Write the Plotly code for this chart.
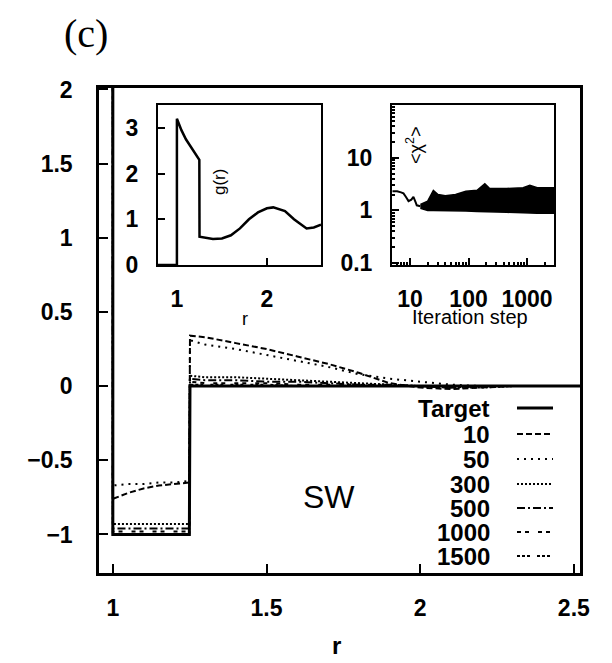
import plotly.graph_objects as go
import math

# ---------------- main panel data: u(r) ----------------
r_main = [1.0, 1.0, 1.05, 1.10, 1.15, 1.20, 1.249, 1.251, 1.30, 1.40, 1.50, 1.60,
          1.70, 1.80, 1.90, 2.00, 2.10, 2.20, 2.30, 2.40, 2.52]
u_target = [3.0, -1.0, -1.0, -1.0, -1.0, -1.0, -1.0, 0.0, 0.0, 0.0, 0.0, 0.0,
            0.0, 0.0, 0.0, 0.0, 0.0, 0.0, 0.0, 0.0, 0.0]
u_10 = [3.0, -0.76, -0.72, -0.69, -0.67, -0.66, -0.65, 0.34, 0.33, 0.29, 0.25, 0.20,
        0.15, 0.09, 0.02, -0.01, -0.02, -0.01, 0.0, 0.0, 0.0]
u_50 = [3.0, -0.67, -0.66, -0.66, -0.65, -0.65, -0.64, 0.31, 0.28, 0.25, 0.21, 0.17,
        0.13, 0.08, 0.05, 0.03, 0.01, 0.0, 0.0, 0.0, 0.0]
u_300 = [3.0, -0.93, -0.93, -0.93, -0.93, -0.93, -0.93, 0.07, 0.06, 0.06, 0.05, 0.04,
         0.03, 0.02, 0.01, 0.0, -0.01, -0.01, 0.0, 0.0, 0.0]
u_500 = [3.0, -0.96, -0.96, -0.96, -0.96, -0.96, -0.96, 0.05, 0.04, 0.04, 0.03, 0.03,
         0.02, 0.01, 0.01, 0.0, -0.01, 0.0, 0.0, 0.0, 0.0]
u_1000 = [3.0, -0.98, -0.98, -0.98, -0.98, -0.98, -0.98, 0.03, 0.02, 0.02, 0.02, 0.01,
          0.01, 0.01, 0.0, 0.0, -0.01, 0.0, 0.0, 0.0, 0.0]
u_1500 = [3.0, -1.0, -1.0, -1.0, -1.0, -1.0, -1.0, 0.01, 0.01, 0.01, 0.01, 0.0,
          0.0, 0.0, 0.0, 0.0, 0.0, 0.0, 0.0, 0.0, 0.0]

series_names = ["Target", "10", "50", "300", "500", "1000", "1500"]
series_vals = [u_target, u_10, u_50, u_300, u_500, u_1000, u_1500]

x_ticks = [1, 1.5, 2, 2.5]
x_ticklabels = ["1", "1.5", "2", "2.5"]
y_ticks = [-1, -0.5, 0, 0.5, 1, 1.5, 2]
y_ticklabels = ["\u22121", "\u22120.5", "0", "0.5", "1", "1.5", "2"]

# ---------------- inset 1: g(r) ----------------
r_g = [0.79, 1.0, 1.0, 1.05, 1.10, 1.15, 1.20, 1.249, 1.251, 1.30, 1.40, 1.50, 1.60,
       1.70, 1.80, 1.90, 2.00, 2.07, 2.20, 2.30, 2.44, 2.52, 2.60]
g_vals = [0.0, 0.0, 3.2, 2.95, 2.75, 2.6, 2.45, 2.3, 0.62, 0.60, 0.57, 0.58, 0.65,
          0.80, 1.00, 1.15, 1.24, 1.26, 1.18, 1.00, 0.80, 0.82, 0.88]

# ---------------- inset 2: <chi^2> vs iteration ----------------
it_early = [5, 6, 7, 7.7, 8.5, 9.4, 10.5, 11.4, 12.5, 13, 15]
chi_early = [2.3, 2.3, 2.2, 2.1, 1.8, 1.5, 1.6, 1.8, 1.4, 1.25, 1.2]
it_band = [15, 20, 25, 30, 40, 60, 90, 140, 190, 230, 450, 860, 1120, 1500, 2000, 2900]
chi_upper = [1.3, 1.5, 2.4, 2.0, 1.9, 2.0, 2.3, 2.4, 3.2, 2.6, 2.6, 2.7, 3.0, 2.7, 2.7, 2.7]
chi_lower = [1.1, 1.0, 1.0, 1.0, 0.98, 1.0, 0.97, 0.95, 0.95, 0.93, 0.92, 0.9, 0.88, 0.88, 0.88, 0.88]

# ---------------- styles ----------------
dashes = ["solid", "6px,3px", "2px,5px", "2px,2px", "8px,3px,2px,3px",
          "4px,4px,4px,9px", "3px,2px,3px,2px,3px,7px"]
widths = [3, 2, 2, 2, 2, 2, 2]

FONT = "Liberation Sans, Arial, sans-serif"
TICKFONT = dict(family=FONT, size=23, color="black", weight="bold")

fig = go.Figure()

for name, vals, dsh, w in zip(series_names, series_vals, dashes, widths):
    fig.add_trace(go.Scatter(x=r_main, y=vals, mode="lines", name=name,
                             line=dict(color="black", width=w, dash=dsh),
                             xaxis="x", yaxis="y", showlegend=False))

fig.add_trace(go.Scatter(x=r_g, y=g_vals, mode="lines", line=dict(color="black", width=2.5),
                         xaxis="x2", yaxis="y2", showlegend=False))

fig.add_trace(go.Scatter(x=it_early, y=chi_early, mode="lines", line=dict(color="black", width=2),
                         xaxis="x3", yaxis="y3", showlegend=False))
fig.add_trace(go.Scatter(x=it_band, y=chi_lower, mode="lines", line=dict(color="black", width=1.5),
                         xaxis="x3", yaxis="y3", showlegend=False))
fig.add_trace(go.Scatter(x=it_band, y=chi_upper, mode="lines", line=dict(color="black", width=1.5),
                         fill="tonexty", fillcolor="black",
                         xaxis="x3", yaxis="y3", showlegend=False))

axis_common = dict(showline=True, linecolor="black", mirror=True, ticks="inside",
                   tickcolor="black", showgrid=False, zeroline=False, automargin=False,
                   tickfont=TICKFONT)

# The page body has an 8px margin: the figure is drawn 8px right/down of the window corner.
OFF = 8
W, H = 612 - OFF, 663 - OFF
L, R, T, B = 99 - OFF, 612 - 580, 88 - OFF, 663 - 573
pw, ph = W - L - R, H - T - B


def px(x):
    # window pixel x -> paper coordinate
    return (x - OFF - L) / pw


def py(y):
    # window pixel y -> paper coordinate
    return (H - B - (y - OFF)) / ph


fig.update_layout(
    width=W, height=H,
    margin=dict(l=L, r=R, t=T, b=B, autoexpand=False),
    paper_bgcolor="white", plot_bgcolor="white",
    xaxis=dict(domain=[0, 1], range=[0.955, 2.52], tickvals=x_ticks, ticktext=x_ticklabels,
               ticklen=9, tickwidth=2, linewidth=2.5, ticklabelstandoff=13,
               anchor="y", **axis_common),
    yaxis=dict(domain=[0, 1], range=[-1.26, 2.01], tickvals=y_ticks, ticktext=y_ticklabels,
               ticklen=9, tickwidth=2, linewidth=2.5, ticklabelstandoff=19,
               anchor="x", **axis_common),
    xaxis2=dict(domain=[px(158), px(321)], range=[0.79, 2.6], tickvals=[1, 2],
                ticklen=7, tickwidth=2, linewidth=2, ticklabelstandoff=12, anchor="y2",
                **axis_common),
    yaxis2=dict(domain=[py(265), py(105)], range=[0, 3.5], tickvals=[0, 1, 2, 3],
                ticklen=7, tickwidth=2, linewidth=2, ticklabelstandoff=13, anchor="x2",
                **axis_common),
    xaxis3=dict(domain=[px(392), px(554)], type="log", range=[math.log10(4.9), math.log10(2900)],
                tickvals=[10, 100, 1000], ticktext=["10", "100", "1000"],
                ticklen=7, tickwidth=2, linewidth=2, ticklabelstandoff=12, anchor="y3",
                minor=dict(ticks="inside", ticklen=3, tickcolor="black",
                           tickvals=[6, 7, 8, 9, 20, 30, 40, 50, 60, 70, 80, 90,
                                     200, 300, 400, 500, 600, 700, 800, 900, 2000]),
                **axis_common),
    yaxis3=dict(domain=[py(265), py(105)], type="log", range=[-1.036, 2.0],
                tickvals=[0.1, 1, 10], ticktext=["0.1", "1", "10"],
                ticklen=7, tickwidth=2, linewidth=2, ticklabelstandoff=13, anchor="x3",
                minor=dict(ticks="inside", ticklen=3, tickcolor="black",
                           tickvals=[0.2, 0.3, 0.4, 0.5, 0.6, 0.7, 0.8, 0.9,
                                     2, 3, 4, 5, 6, 7, 8, 9, 20, 30, 40, 50, 60, 70, 80, 90]),
                **axis_common),
)

ann = []


def text_at(x, y, text, size, angle=0, xanchor="center", family=FONT, weight="normal"):
    ann.append(dict(x=px(x), y=py(y), xref="paper", yref="paper", text=text, showarrow=False,
                    xanchor=xanchor, yanchor="middle", textangle=angle,
                    font=dict(family=family, size=size, color="black", weight=weight)))


text_at(86, 34, "(c)", 40, family="Liberation Serif, Times New Roman, serif")
text_at(329, 497, "SW", 32)
text_at(219, 182, "g(r)", 17, angle=-90)
text_at(414, 145, "<\u03c7<sup>2</sup>>", 18, angle=-90)
text_at(245, 319, "r", 18)
text_at(470, 317, "Iteration step", 20)
text_at(336, 645, "r", 24, weight="bold")

# custom legend (labels right-aligned, sample lines to the right)
row_y = [408, 434, 459, 484, 508, 532, 556]
shapes = []
for name, dsh, w, yy in zip(series_names, dashes, widths, row_y):
    text_at(492, yy, name, 24, xanchor="right", weight="bold")
    shapes.append(dict(type="line", xref="paper", yref="paper", x0=px(517), x1=px(553),
                       y0=py(yy), y1=py(yy), line=dict(color="black", width=w, dash=dsh)))

# scanned page border on the right
shapes.append(dict(type="line", xref="paper", yref="paper", x0=px(607), x1=px(607),
                   y0=py(663), y1=py(0), line=dict(color="#bbbbbb", width=1.5)))

fig.update_layout(annotations=ann, shapes=shapes)

fig.write_html("out.html")
